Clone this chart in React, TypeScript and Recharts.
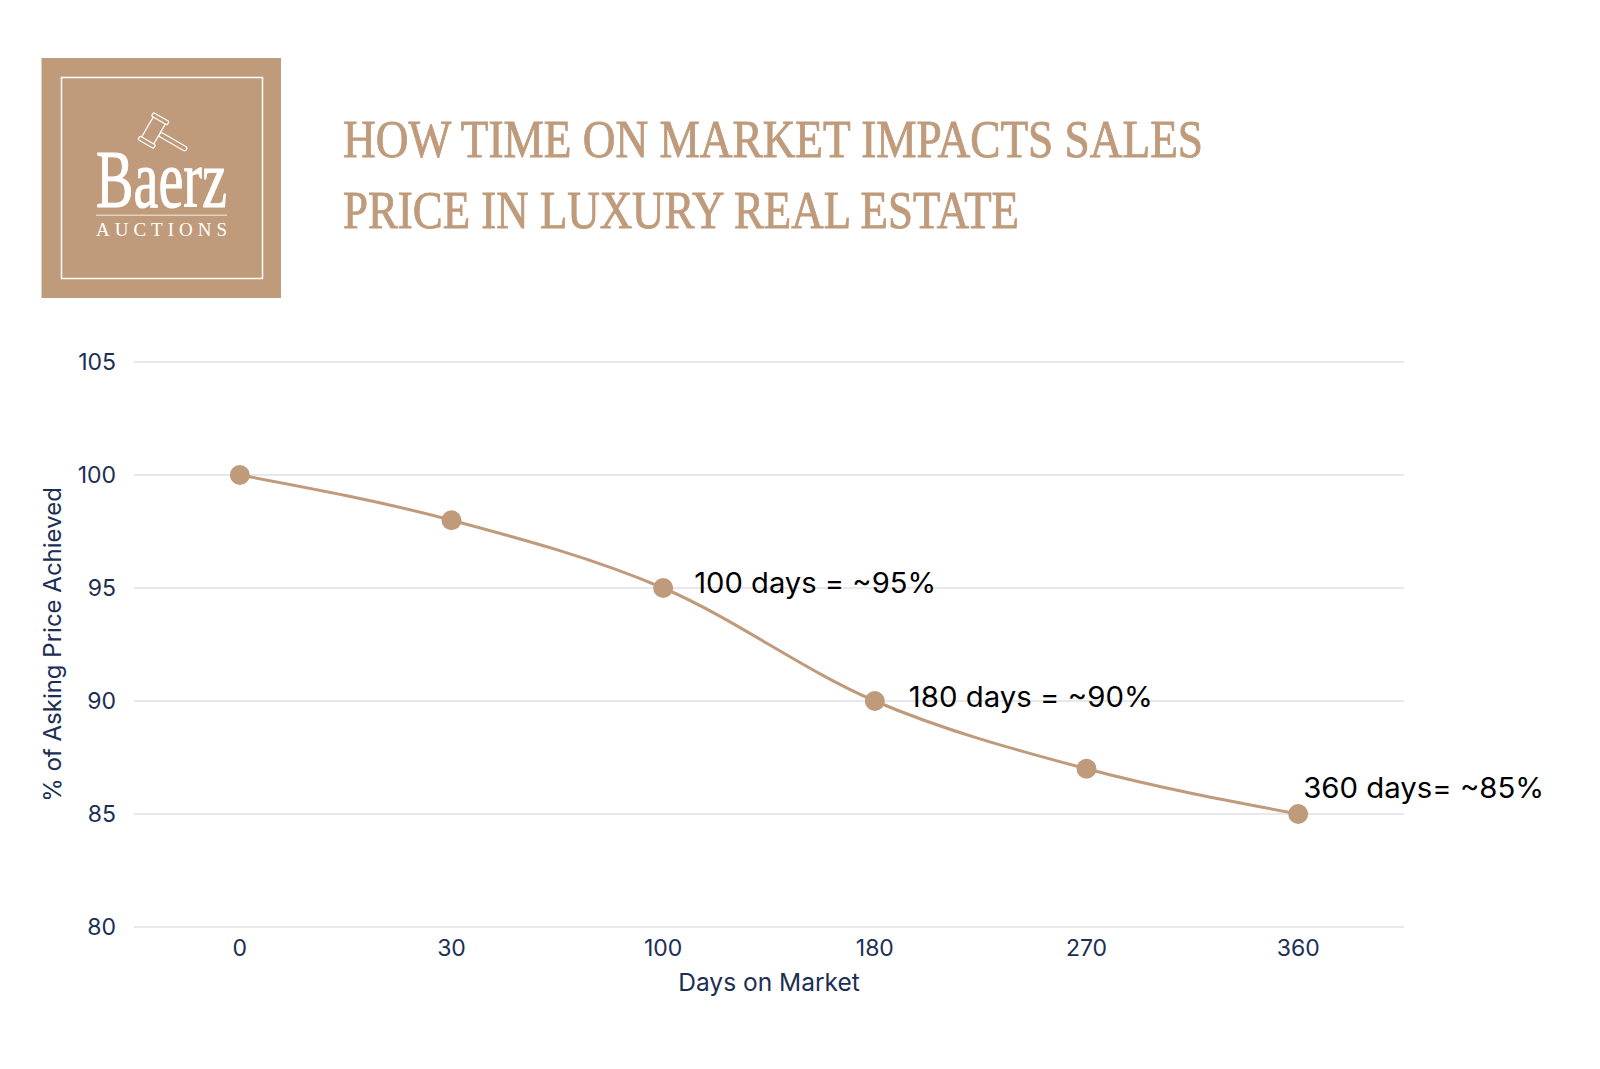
import React from 'react';
import { LineChart, Line, XAxis, YAxis, CartesianGrid } from 'recharts';

const days = ['0', '30', '100', '180', '270', '360'];
const percentAchieved = [100, 98, 95, 90, 87, 85];
const yTicks = [80, 85, 90, 95, 100, 105];
const callouts = ['', '', '100 days = ~95%', '180 days = ~90%', '', '360 days= ~85%'];

const TAN = '#BF9B7B';
const NAVY = '#1B2F55';
const SANS = 'Inter, "Noto Sans", sans-serif';
const SERIF = '"Liberation Serif", serif';

// label offsets from the point they belong to
const calloutOffset = [
  null,
  null,
  { dx: 31, dy: 5, width: 242 },
  { dx: 34, dy: 6, width: 244 },
  null,
  { dx: 5, dy: -16, width: 241 },
];

const chartData = days.map((day, i) => ({ day, value: percentAchieved[i] }));

const renderCallout = (props: any) => {
  const { x, y, index } = props;
  const off = calloutOffset[index];
  if (!off) return <g key={index} />;
  return (
    <text
      key={index}
      x={x + off.dx}
      y={y + off.dy}
      fill="#000"
      fontFamily={SANS}
      fontSize={28}
      textLength={off.width}
      lengthAdjust="spacingAndGlyphs"
    >
      {callouts[index]}
    </text>
  );
};

const Header = () => (
  <svg width={1600} height={340} style={{ position: 'absolute', left: 0, top: 0 }}>
    <rect x={41.5} y={58} width={239.5} height={240} fill={TAN} />
    <rect x={61.5} y={77.5} width={201} height={201} fill="none" stroke="#fff" strokeWidth={1.5} />
    <g transform="translate(153.5 130.5) rotate(30)" fill={TAN} stroke="#fff" strokeWidth={1.2}>
      <rect x={7} y={-2.3} width={31} height={4.6} rx={2} />
      <rect x={-7} y={-12} width={14} height={24} />
      <rect x={-9} y={-15.5} width={18} height={4} rx={1} />
      <rect x={-9} y={11.5} width={18} height={4} rx={1} />
    </g>
    <text x={96} y={207} fill="#fff" fontFamily={SERIF} fontSize={83} stroke="#fff" strokeWidth={1} textLength={131} lengthAdjust="spacingAndGlyphs">
      Baerz
    </text>
    <rect x={96} y={214.5} width={131} height={1.5} fill="#E3D2C2" />
    <text x={96} y={236} fill="#fff" fontFamily={SERIF} fontSize={19} textLength={131}>
      AUCTIONS
    </text>
    <text x={343} y={157} fill={TAN} stroke={TAN} strokeWidth={0.9} fontFamily={SERIF} fontSize={53} textLength={860} lengthAdjust="spacingAndGlyphs">
      HOW TIME ON MARKET IMPACTS SALES
    </text>
    <text x={343} y={228} fill={TAN} stroke={TAN} strokeWidth={0.9} fontFamily={SERIF} fontSize={53} textLength={676} lengthAdjust="spacingAndGlyphs">
      PRICE IN LUXURY REAL ESTATE
    </text>
  </svg>
);

export default function App() {
  return (
    <div style={{ position: 'absolute', left: 0, top: 0, width: 1600, height: 1069, background: '#fff' }}>
      <LineChart
        width={1600}
        height={1069}
        data={chartData}
        margin={{ top: 362, right: 196, bottom: 0, left: 44 }}
      >
        <CartesianGrid vertical={false} stroke="#E0E0E6" strokeWidth={1.6} />
        <XAxis
          dataKey="day"
          scale="band"
          height={142}
          axisLine={false}
          tickLine={false}
          tickMargin={7}
          tick={{ fill: NAVY, fontSize: 23, fontFamily: SANS }}
          label={{ value: 'Days on Market', position: 'insideTop', dy: 42, fill: NAVY, fontSize: 24.5, fontFamily: SANS }}
        />
        <YAxis
          domain={[80, 105]}
          ticks={yTicks}
          width={90}
          axisLine={false}
          tickLine={false}
          tickMargin={12}
          tick={{ fill: NAVY, fontSize: 23, fontFamily: SANS }}
          label={{ value: '% of Asking Price Achieved', angle: -90, position: 'insideLeft', dx: 3, fill: NAVY, fontSize: 24, fontFamily: SANS, style: { textAnchor: 'middle' } }}
        />
        <Line
          type="monotone"
          dataKey="value"
          stroke={TAN}
          strokeWidth={3}
          dot={{ r: 10, fill: TAN, stroke: 'none', fillOpacity: 1 }}
          label={renderCallout}
          isAnimationActive={false}
        />
      </LineChart>
      <Header />
    </div>
  );
}
